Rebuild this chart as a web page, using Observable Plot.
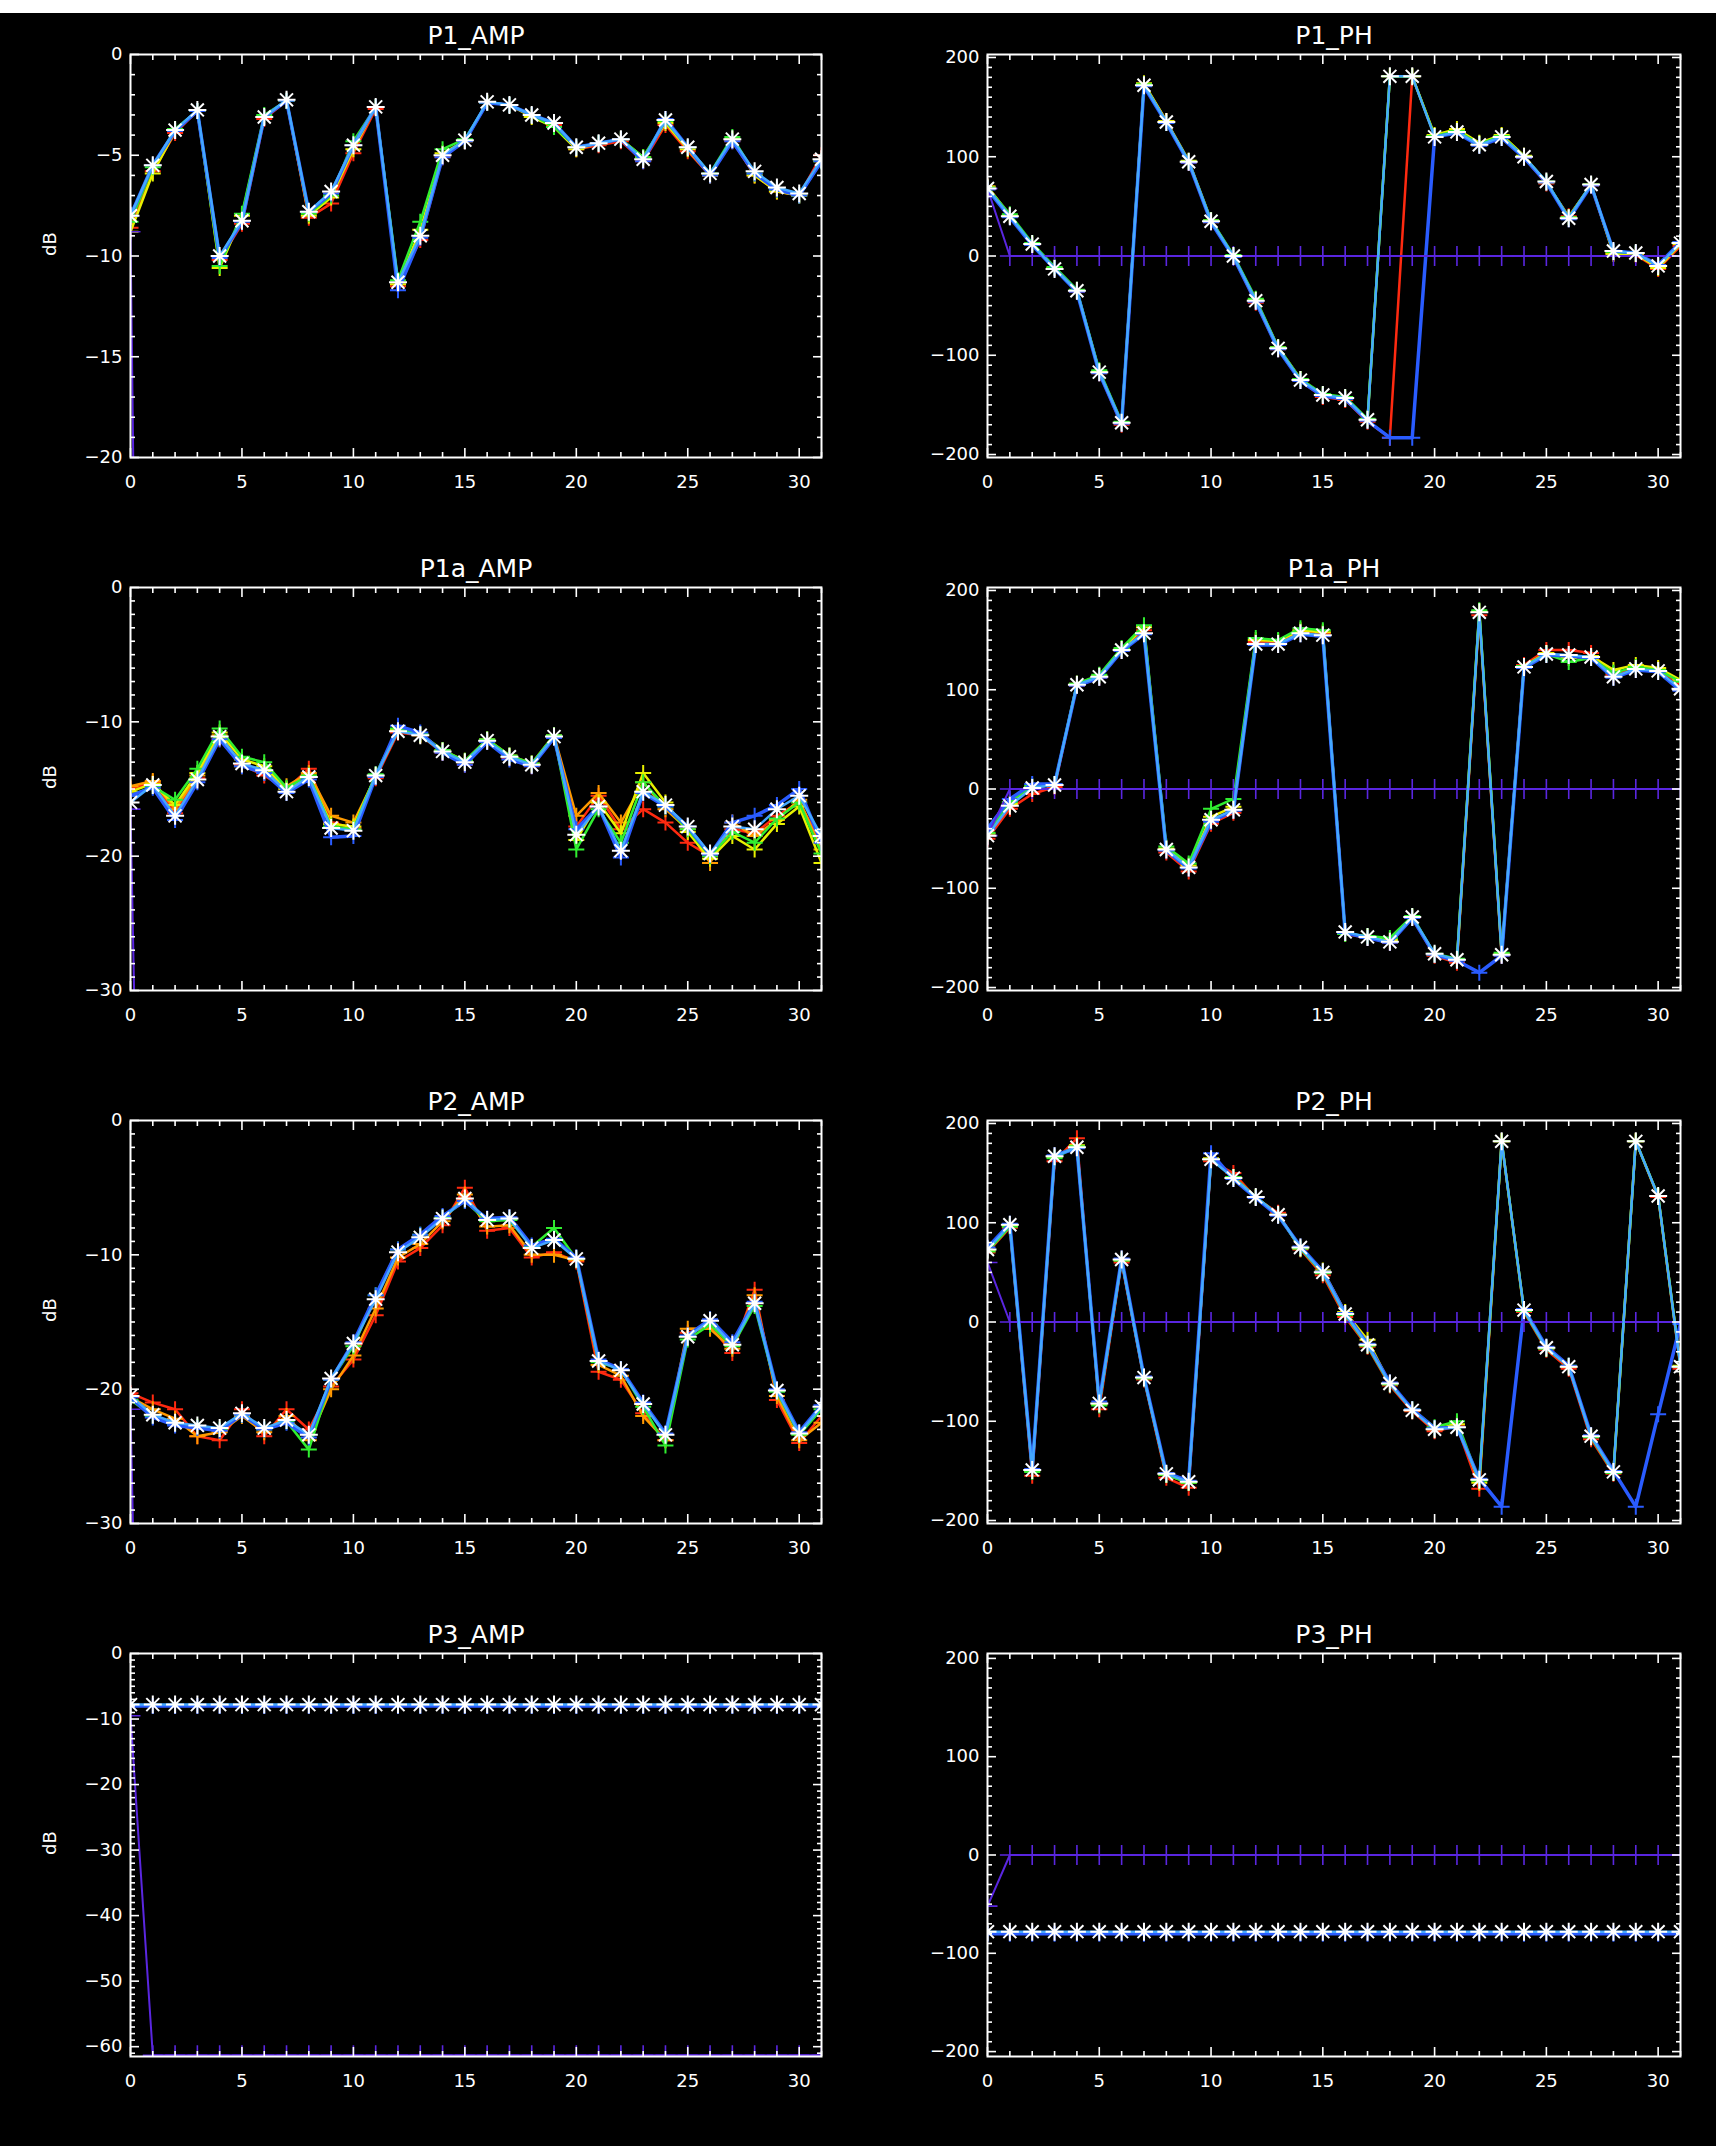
<!DOCTYPE html>
<html><head><meta charset="utf-8">
<script src="https://cdn.jsdelivr.net/npm/d3@7"></script>
<script src="https://cdn.jsdelivr.net/npm/@observablehq/plot@0.6"></script>
<style>
html,body{margin:0;padding:0;background:#000;}
#page{position:relative;width:1716px;height:2146px;background:#000;overflow:hidden;}
#strip{position:absolute;left:0;top:0;width:1716px;height:13px;background:#fff;z-index:5;}
.panel{position:absolute;}
</style></head><body>
<div id="page"><div id="strip"></div></div>
<script>
// ---- categories / ticks ----
const channels = [0,1,2,3,4,5,6,7,8,9,10,11,12,13,14,15,16,17,18,19,20,21,22,23,24,25,26,27,28,29,30,31];
const xTicks = [0,5,10,15,20,25,30];
const ampTicks20 = [0,-5,-10,-15,-20];
const ampTicks30 = [0,-10,-20,-30];
const ampTicks60 = [0,-10,-20,-30,-40,-50,-60];
const phTicks = [200,100,0,-100,-200];

// ---- P1_AMP ----
const p1ampMain   = [-8.0,-5.5,-3.75,-2.75,-10.0,-8.25,-3.1,-2.25,-7.8,-6.8, -4.5,-2.6,-11.3,-9.0,-5.0,-4.25,-2.35,-2.5,-3.0,-3.4, -4.6,-4.4,-4.2,-5.2,-3.25,-4.6,-5.9,-4.2,-5.8,-6.6, -6.9,-5.2];
const p1ampRed    = [-8.6,-5.8,-3.9,-2.8,-10.2,-8.4,-3.2,-2.3,-8.1,-7.4, -4.9,-2.7,-11.5,-9.2,-5.1,-4.3,-2.4,-2.5,-3.0,-3.5, -4.7,-4.5,-4.3,-5.3,-3.5,-4.8,-6.0,-4.3,-6.0,-6.8, -7.0,-5.0];
const p1ampYellow = [-8.8,-5.9,-3.8,-2.8,-10.6,-8.0,-3.1,-2.3,-8.0,-7.1, -4.7,-2.6,-11.4,-8.7,-4.9,-4.3,-2.4,-2.5,-3.1,-3.6, -4.7,-4.4,-4.2,-5.1,-3.4,-4.7,-6.0,-4.2,-6.0,-6.8, -7.0,-5.3];
const p1ampGreen  = [-8.3,-5.6,-3.7,-2.8,-10.5,-7.9,-3.0,-2.3,-7.9,-7.0, -4.3,-2.6,-11.2,-8.3,-4.7,-4.2,-2.4,-2.5,-3.0,-3.6, -4.6,-4.4,-4.2,-5.1,-3.3,-4.6,-5.9,-4.1,-5.9,-6.7, -7.0,-5.3];
const p1ampBlue   = [-8.0,-5.5,-3.8,-2.8,-10.1,-8.3,-3.1,-2.3,-7.8,-6.9, -4.5,-2.6,-11.7,-9.1,-5.1,-4.3,-2.4,-2.5,-3.0,-3.4, -4.6,-4.4,-4.2,-5.3,-3.2,-4.6,-6.0,-4.3,-5.9,-6.7, -7.0,-5.3];
const p1ampRef    = [-8.8,-100,-100,-100,-100,-100,-100,-100,-100,-100, -100,-100,-100,-100,-100,-100,-100,-100,-100,-100, -100,-100,-100,-100,-100,-100,-100,-100,-100,-100, -100,-100];

// ---- P1_PH ----
const p1phMain   = [68,40,12,-13,-35,-117,-168,172,135,95, 35,0,-45,-93,-125,-140,-143,-165,181,181, 120,125,112,120,100,75,38,72,5,3, -10,13];
const p1phRed    = [70,41,11,-12,-36,-118,-170,173,136,94, 34,-1,-47,-94,-126,-142,-145,-167,-183,181, 121,127,113,121,99,73,40,71,3,1, -13,10];
const p1phYellow = [70,40,12,-12,-35,-116,-168,174,136,96, 36,0,-44,-92,-124,-140,-143,-165,181,181, 122,128,114,122,101,74,39,72,2,2, -12,12];
const p1phGreen  = [69,42,13,-11,-34,-115,-167,173,134,95, 36,1,-43,-92,-124,-139,-142,-164,181,181, 121,126,113,121,100,75,39,72,4,3, -10,14];
const p1phBlue   = [67,39,11,-13,-36,-118,-169,171,134,94, 34,-1,-46,-94,-126,-141,-144,-166,-183,-183, 120,124,111,119,99,74,37,71,5,3, -9,14];
const p1phRef    = [68,0,0,0,0,0,0,0,0,0, 0,0,0,0,0,0,0,0,0,0, 0,0,0,0,0,0,0,0,0,0, 0,0];

// ---- P1a_AMP ----
const p1aampMain   = [-16.0,-14.7,-17.0,-14.3,-11.1,-13.1,-13.6,-15.2,-14.1,-17.9, -18.1,-14.0,-10.7,-11.0,-12.2,-13.0,-11.4,-12.6,-13.2,-11.1, -18.4,-16.3,-19.6,-15.2,-16.2,-17.8,-19.8,-17.8,-18.0,-16.5, -15.5,-18.5];
const p1aampRed    = [-15.0,-14.5,-16.8,-14.2,-11.3,-13.2,-14.0,-15.0,-13.5,-17.5, -17.9,-14.2,-10.8,-11.0,-12.3,-13.2,-11.5,-12.7,-13.3,-11.2, -17.8,-15.5,-18.0,-16.5,-17.5,-19.0,-20.0,-18.0,-18.3,-17.0, -16.0,-19.0];
const p1aampOrange = [-14.8,-14.4,-16.5,-14.0,-11.0,-13.3,-13.8,-14.8,-13.8,-17.0, -17.5,-14.1,-10.6,-10.9,-12.1,-12.9,-11.3,-12.5,-13.1,-11.0, -17.0,-15.3,-17.5,-14.5,-16.5,-18.0,-20.5,-17.5,-18.5,-17.3, -15.8,-19.5];
const p1aampYellow = [-15.2,-14.6,-16.2,-13.8,-10.8,-12.8,-13.3,-15.0,-14.0,-17.6, -17.8,-14.0,-10.6,-11.0,-12.2,-13.0,-11.4,-12.6,-13.2,-11.1, -18.8,-16.0,-18.3,-13.8,-16.0,-18.2,-20.2,-18.5,-19.5,-17.6, -16.3,-20.5];
const p1aampGreen  = [-15.5,-14.8,-15.8,-13.5,-10.5,-12.6,-13.0,-14.9,-14.0,-17.8, -18.0,-13.9,-10.5,-10.9,-12.1,-12.9,-11.3,-12.5,-13.1,-11.0, -19.5,-16.5,-19.0,-14.5,-16.3,-18.0,-20.0,-18.2,-19.0,-17.2, -16.0,-19.8];
const p1aampBlue   = [-15.5,-14.9,-17.3,-14.5,-11.3,-13.3,-13.8,-15.3,-14.3,-18.6, -18.5,-14.1,-10.3,-10.8,-12.3,-13.2,-11.5,-12.8,-13.3,-11.2, -18.0,-16.3,-20.1,-15.3,-16.3,-17.8,-19.9,-17.5,-17.0,-16.2, -15.0,-19.0];
const p1aampRef    = [-16.5,-100,-100,-100,-100,-100,-100,-100,-100,-100, -100,-100,-100,-100,-100,-100,-100,-100,-100,-100, -100,-100,-100,-100,-100,-100,-100,-100,-100,-100, -100,-100];

// ---- P1a_PH ----
const p1aphMain   = [-47,-17,1,4,105,113,140,157,-61,-79, -31,-21,146,146,157,155,-144,-149,-154,-129, -166,-172,178,-167,123,136,135,133,113,121, 119,101];
const p1aphRed    = [-50,-20,-5,2,104,112,139,160,-64,-83, -35,-24,148,148,159,157,-146,-150,-155,-130, -168,-175,175,-168,125,140,140,137,115,123, 121,105];
const p1aphYellow = [-45,-15,2,4,106,114,141,163,-60,-77, -28,-18,150,149,160,158,-145,-149,-152,-129, -167,-172,179,-166,124,137,132,134,120,125, 122,110];
const p1aphGreen  = [-44,-13,3,5,106,115,142,165,-58,-75, -20,-10,152,150,162,160,-146,-148,-150,-128, -166,-171,180,-165,124,136,128,132,117,123, 120,108];
const p1aphBlue   = [-40,-10,5,5,104,112,139,156,-62,-80, -33,-22,145,145,156,154,-145,-150,-155,-130, -167,-173,-185,-168,122,135,134,132,112,120, 118,99];
const p1aphRef    = [-47,0,0,0,0,0,0,0,0,0, 0,0,0,0,0,0,0,0,0,0, 0,0,0,0,0,0,0,0,0,0, 0,0];

// ---- P2_AMP ----
const p2ampMain   = [-20.5,-21.9,-22.5,-22.7,-22.9,-21.8,-22.9,-22.3,-23.4,-19.2, -16.6,-13.3,-9.8,-8.7,-7.3,-5.8,-7.4,-7.3,-9.5,-8.9, -10.3,-17.9,-18.6,-21.1,-23.4,-16.1,-14.9,-16.7,-13.6,-20.1, -23.3,-21.3];
const p2ampRed    = [-20.3,-21.0,-21.5,-23.5,-23.8,-21.5,-23.5,-21.5,-23.0,-19.8, -17.8,-14.5,-10.5,-9.5,-7.8,-5.0,-8.2,-8.0,-10.2,-9.8, -10.5,-18.7,-19.3,-21.8,-23.8,-15.8,-15.3,-17.3,-12.6,-20.8, -24.0,-22.0];
const p2ampOrange = [-20.6,-21.5,-22.2,-23.5,-23.2,-22.0,-23.2,-22.0,-23.8,-20.0, -17.5,-14.0,-10.2,-9.2,-7.5,-5.5,-7.9,-7.8,-10.0,-10.0, -10.4,-18.2,-19.0,-22.0,-23.8,-15.5,-15.5,-17.0,-13.0,-20.5, -23.8,-22.5];
const p2ampGreen  = [-20.8,-22.0,-22.6,-22.8,-23.0,-21.9,-23.0,-22.4,-24.5,-19.3, -16.8,-13.0,-9.6,-8.5,-7.2,-6.0,-7.5,-7.4,-9.4,-8.0, -10.3,-18.0,-18.5,-21.3,-24.2,-16.3,-15.2,-16.8,-13.8,-20.2, -23.4,-21.5];
const p2ampBlue   = [-20.6,-22.1,-22.7,-22.9,-23.1,-21.9,-23.0,-22.5,-23.6,-19.3, -16.5,-13.0,-9.6,-8.5,-7.1,-6.0,-7.3,-7.2,-9.3,-8.8, -10.2,-17.8,-18.5,-21.0,-23.3,-16.0,-14.8,-16.5,-13.5,-20.0, -23.2,-21.2];
const p2ampRef    = [-21.5,-100,-100,-100,-100,-100,-100,-100,-100,-100, -100,-100,-100,-100,-100,-100,-100,-100,-100,-100, -100,-100,-100,-100,-100,-100,-100,-100,-100,-100, -100,-100];

// ---- P2_PH ----
const p2phMain   = [73,98,-149,167,176,-82,63,-56,-153,-161, 164,145,126,108,75,50,8,-23,-62,-89, -108,-106,-159,182,12,-26,-45,-115,-151,182, 127,-45];
const p2phRed    = [70,95,-155,162,185,-88,60,-58,-157,-167, 162,150,125,110,73,47,5,-25,-64,-90, -110,-105,-168,182,10,-28,-47,-118,-153,182, 126,-47];
const p2phYellow = [72,97,-150,166,178,-83,62,-56,-154,-162, 165,146,126,108,74,52,10,-18,-62,-89, -108,-103,-162,182,12,-26,-45,-115,-151,182, 127,-44];
const p2phGreen  = [71,96,-151,165,177,-84,62,-57,-154,-162, 164,146,126,108,74,49,7,-24,-63,-88, -106,-100,-160,182,11,-27,-44,-116,-152,182, 127,-45];
const p2phBlue   = [75,99,-148,168,175,-80,64,-55,-152,-160, 170,144,125,107,76,51,9,-22,-61,-88, -107,-106,-158,-186,13,-25,-44,-114,-150,-186, -93,-2];
const p2phRef    = [60,0,0,0,0,0,0,0,0,0, 0,0,0,0,0,0,0,0,0,0, 0,0,0,0,0,0,0,0,0,0, 0,0];

// ---- P3_AMP ----
const p3ampMain = [-7.8,-7.8,-7.8,-7.8,-7.8,-7.8,-7.8,-7.8,-7.8,-7.8, -7.8,-7.8,-7.8,-7.8,-7.8,-7.8,-7.8,-7.8,-7.8,-7.8, -7.8,-7.8,-7.8,-7.8,-7.8,-7.8,-7.8,-7.8,-7.8,-7.8, -7.8,-7.8];
const p3ampBlue = [-8.0,-8.0,-8.0,-8.0,-8.0,-8.0,-8.0,-8.0,-8.0,-8.0, -8.0,-8.0,-8.0,-8.0,-8.0,-8.0,-8.0,-8.0,-8.0,-8.0, -8.0,-8.0,-8.0,-8.0,-8.0,-8.0,-8.0,-8.0,-8.0,-8.0, -8.0,-8.0];
const p3ampRef  = [-9.5,-61.3,-61.3,-61.3,-61.3,-61.3,-61.3,-61.3,-61.3,-61.3, -61.3,-61.3,-61.3,-61.3,-61.3,-61.3,-61.3,-61.3,-61.3,-61.3, -61.3,-61.3,-61.3,-61.3,-61.3,-61.3,-61.3,-61.3,-61.3,-61.3, -61.3,-61.3];

// ---- P3_PH ----
const p3phMain = [-78,-78,-78,-78,-78,-78,-78,-78,-78,-78, -78,-78,-78,-78,-78,-78,-78,-78,-78,-78, -78,-78,-78,-78,-78,-78,-78,-78,-78,-78, -78,-78];
const p3phBlue = [-80,-80,-80,-80,-80,-80,-80,-80,-80,-80, -80,-80,-80,-80,-80,-80,-80,-80,-80,-80, -80,-80,-80,-80,-80,-80,-80,-80,-80,-80, -80,-80];
const p3phRef  = [-52,0,0,0,0,0,0,0,0,0, 0,0,0,0,0,0,0,0,0,0, 0,0,0,0,0,0,0,0,0,0, 0,0];

// ---- colours ----
const cRed = "#ff2a10", cOrange = "#ff9a00", cYellow = "#e8f000", cGreen = "#30ee30", cBlue = "#2a5cff";
const cMain = "#44a8ff", cRef = "#5a26e0";

// ---- symbols (IDL psym 1 and 2) ----
const plusSym = {draw(ctx, size){ const r = Math.sqrt(size/Math.PI); ctx.moveTo(-r,0); ctx.lineTo(r,0); ctx.moveTo(0,-r); ctx.lineTo(0,r); }};
const starSym = {draw(ctx, size){ const r = Math.sqrt(size/Math.PI); const d = r*0.72;
  ctx.moveTo(-r,0); ctx.lineTo(r,0); ctx.moveTo(0,-r); ctx.lineTo(0,r);
  ctx.moveTo(-d,-d); ctx.lineTo(d,d); ctx.moveTo(-d,d); ctx.lineTo(d,-d); }};

const fmt = d => d < 0 ? "\u2212" + Math.abs(d) : String(d);
const font = "DejaVu Sans, Liberation Sans, sans-serif";

const panels = [
  {title:"P1_AMP", row:0, col:0, domain:[-20,0], ticks:ampTicks20, minor:1, db:true,
   variants:[[p1ampRed,cRed],[p1ampYellow,cYellow],[p1ampGreen,cGreen],[p1ampBlue,cBlue]], ref:p1ampRef, main:p1ampMain},
  {title:"P1_PH", row:0, col:1, domain:[-203,203], ticks:phTicks, minor:10, db:false,
   variants:[[p1phRed,cRed],[p1phYellow,cYellow],[p1phGreen,cGreen],[p1phBlue,cBlue]], ref:p1phRef, main:p1phMain},
  {title:"P1a_AMP", row:1, col:0, domain:[-30,0], ticks:ampTicks30, minor:1, db:true,
   variants:[[p1aampRed,cRed],[p1aampOrange,cOrange],[p1aampYellow,cYellow],[p1aampGreen,cGreen],[p1aampBlue,cBlue]], ref:p1aampRef, main:p1aampMain},
  {title:"P1a_PH", row:1, col:1, domain:[-203,203], ticks:phTicks, minor:10, db:false,
   variants:[[p1aphRed,cRed],[p1aphYellow,cYellow],[p1aphGreen,cGreen],[p1aphBlue,cBlue]], ref:p1aphRef, main:p1aphMain},
  {title:"P2_AMP", row:2, col:0, domain:[-30,0], ticks:ampTicks30, minor:1, db:true,
   variants:[[p2ampRed,cRed],[p2ampOrange,cOrange],[p2ampGreen,cGreen],[p2ampBlue,cBlue]], ref:p2ampRef, main:p2ampMain},
  {title:"P2_PH", row:2, col:1, domain:[-203,203], ticks:phTicks, minor:10, db:false,
   variants:[[p2phRed,cRed],[p2phYellow,cYellow],[p2phGreen,cGreen],[p2phBlue,cBlue]], ref:p2phRef, main:p2phMain},
  {title:"P3_AMP", row:3, col:0, domain:[-61.5,0], ticks:ampTicks60, minor:1, db:true,
   variants:[[p3ampBlue,cBlue]], ref:p3ampRef, main:p3ampMain},
  {title:"P3_PH", row:3, col:1, domain:[-205,205], ticks:phTicks, minor:10, db:false,
   variants:[[p3phBlue,cBlue]], ref:p3phRef, main:p3phMain}
];

const W = 858, H = 533;
const xMinor = d3.range(0, 32).filter(v => v % 5 !== 0);

function build(p){
  const mk = arr => channels.map((c,i) => ({x:c, y:arr[i]}));
  const [lo, hi] = p.domain;
  const yMinor = d3.range(Math.ceil(lo / p.minor) * p.minor, hi + 1e-9, p.minor).filter(v => !p.ticks.includes(v));
  const marks = [];
  for (const [vals, color] of p.variants){
    const d = mk(vals);
    const sw = color === cBlue ? 3.5 : 2.5;
    marks.push(Plot.line(d, {x:"x", y:"y", stroke:color, strokeWidth:sw, clip:true}));
    marks.push(Plot.dot(d, {x:"x", y:"y", symbol:plusSym, r:8, stroke:color, strokeWidth:2, fill:"none", clip:true}));
  }
  const rd = mk(p.ref);
  marks.push(Plot.line(rd, {x:"x", y:"y", stroke:cRef, strokeWidth:2, clip:true}));
  marks.push(Plot.dot(rd, {x:"x", y:"y", symbol:plusSym, r:10, stroke:cRef, strokeWidth:1.6, fill:"none", clip:true}));
  const md = mk(p.main);
  marks.push(Plot.line(md, {x:"x", y:"y", stroke:cMain, strokeWidth:2.5, clip:true}));
  marks.push(Plot.dot(md, {x:"x", y:"y", symbol:starSym, r:9, stroke:"white", strokeWidth:2, fill:"none", clip:true}));

  const tk = {stroke:"white", fill:"none", label:null, strokeWidth:1.6};
  marks.push(
    Plot.axisX(xTicks, {anchor:"bottom", tickSize:-9, ...tk}),
    Plot.axisX(xMinor, {anchor:"bottom", tickSize:-5, ...tk}),
    Plot.axisX(xTicks, {anchor:"top", tickSize:-9, ...tk}),
    Plot.axisX(xMinor, {anchor:"top", tickSize:-5, ...tk}),
    Plot.axisY(p.ticks, {anchor:"left", tickSize:-9, ...tk}),
    Plot.axisY(yMinor, {anchor:"left", tickSize:-5, ...tk}),
    Plot.axisY(p.ticks, {anchor:"right", tickSize:-9, ...tk}),
    Plot.axisY(yMinor, {anchor:"right", tickSize:-5, ...tk}),
    Plot.axisX(xTicks, {anchor:"bottom", tickSize:0, tickPadding:18, tickFormat:fmt, fill:"white", fontSize:18, fontFamily:font, label:null}),
    Plot.axisY(p.ticks, {anchor:"left", tickSize:0, tickPadding:8, tickFormat:fmt, fill:"white", fontSize:18, fontFamily:font, label:null}),
    Plot.frame({stroke:"white", strokeWidth:2}),
    Plot.text([p.title], {frameAnchor:"top", lineAnchor:"bottom", dy:-11, fill:"white", fontSize:25, fontFamily:font})
  );
  if (p.db) marks.push(Plot.text(["dB"], {frameAnchor:"left", dx:-80, rotate:-90, fill:"white", fontSize:18, fontFamily:font}));

  const mL = p.col === 0 ? 130 : 129;
  const mR = p.col === 0 ? 37 : 36;
  return Plot.plot({
    width:W, height:H, marginLeft:mL, marginRight:mR, marginTop:54, marginBottom:H-54-403,
    x:{domain:[0,31]}, y:{domain:p.domain},
    style:{background:"transparent", color:"white", fontFamily:font, fontSize:"18px", overflow:"visible"},
    marks
  });
}

const page = document.getElementById("page");
for (const p of panels){
  const div = document.createElement("div");
  div.className = "panel";
  div.style.left = (p.col * W) + "px";
  div.style.top = (p.row * H) + "px";
  div.appendChild(build(p));
  page.appendChild(div);
}
</script>
</body></html>
